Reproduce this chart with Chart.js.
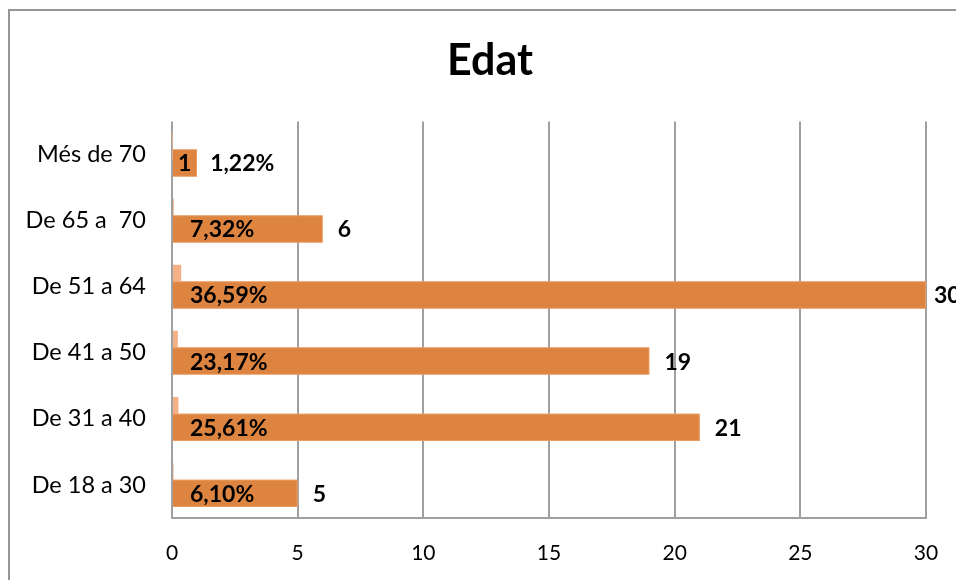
<!DOCTYPE html>
<html>
<head>
<meta charset="utf-8">
<script src="https://cdn.jsdelivr.net/npm/chart.js@4.4.1/dist/chart.umd.min.js"></script>
<style>
html,body{margin:0;padding:0;background:#fff;}
#wrap{width:956px;height:580px;}
</style>
</head>
<body>
<div id="wrap"><canvas id="c" width="956" height="580"></canvas></div>
<script>
const categories = ["De 18 a 30", "De 31 a 40", "De 41 a 50", "De 51 a 64", "De 65 a  70", "Més de 70"];
const counts = [5, 21, 19, 30, 6, 1];
const percents = [0.0610, 0.2561, 0.2317, 0.3659, 0.0732, 0.0122];
const xTicks = [0, 5, 10, 15, 20, 25, 30];

const FONT = "Lato, 'Open Sans', sans-serif";

/* marco gris */
const frame = {
  id: "frame",
  beforeDraw(chart){
    const c = chart.ctx;
    c.save();
    c.fillStyle = "#fff";
    c.fillRect(0, 0, chart.width, chart.height);
    c.strokeStyle = "#959595";
    c.lineWidth = 2;
    c.strokeRect(9, 10, chart.width + 40, chart.height + 40);
    c.restore();
  }
};

/* el títol centrat sobre tot el marc (que surt per la dreta) */
const titleShift = {
  id: "titleShift",
  afterLayout(chart){
    if (chart.titleBlock) chart.titleBlock.left = 54;
  }
};

/* la barra taronja sempre per sobre */
const orangeOnTop = {
  id: "orangeOnTop",
  afterDatasetsDraw(chart){
    chart.getDatasetMeta(1).controller.draw();
  }
};

/* etiquetes */
const labels = {
  id: "labels",
  afterDraw(chart){
    const c = chart.ctx;
    const meta = chart.getDatasetMeta(1);
    c.save();
    c.font = "bold 23px " + FONT;
    c.fillStyle = "#000";
    c.textBaseline = "middle";
    c.textAlign = "left";
    meta.data.forEach((bar, i) => {
      const pct = (percents[i] * 100).toFixed(2).replace(".", ",") + "%";
      const w = c.measureText(pct).width;
      const len = bar.x - bar.base;
      if (len > w + 24) {
        c.fillText(pct, bar.base + 17, bar.y + 1);
        c.fillText(String(counts[i]), Math.min(bar.x + 15, chart.width - 22), bar.y + 1);
      } else {
        c.fillText(String(counts[i]), bar.base + 5, bar.y + 1);
        c.fillText(pct, bar.x + 13, bar.y + 1);
      }
    });
    c.restore();
  }
};

new Chart(document.getElementById("c"), {
  type: "bar",
  data: {
    labels: categories,
    datasets: [
      {
        label: "Percentatge",
        data: percents,
        backgroundColor: "#F5B185"
      },
      {
        label: "Nombre",
        data: counts,
        backgroundColor: "#DD8440",
        borderColor: "#EC9B5E",
        borderWidth: 1
      }
    ]
  },
  options: {
    indexAxis: "y",
    responsive: false,
    animation: false,
    categoryPercentage: 0.5,
    barPercentage: 1.667,
    layout: { padding: { left: 0, right: 30, top: 0, bottom: 0 } },
    plugins: {
      legend: { display: false },
      tooltip: { enabled: false },
      title: {
        display: true,
        text: "Edat",
        color: "#000",
        font: { family: FONT, size: 43, weight: "bold" },
        padding: { top: 35, bottom: 35 }
      }
    },
    scales: {
      x: {
        min: 0,
        max: 30,
        afterBuildTicks(scale){
          scale.ticks = xTicks.map(v => ({ value: v }));
        },
        afterFit(scale){ scale.height = 62; },
        grid: { color: "#a0a0a0", lineWidth: 2, drawTicks: true, tickLength: 23, tickColor: "rgba(0,0,0,0)" },
        border: { display: true, color: "#a0a0a0", width: 2 },
        ticks: {
          color: "#000",
          padding: 0,
          font: { family: FONT, size: 21 }
        }
      },
      y: {
        reverse: true,
        afterFit(scale){ scale.width = 172; },
        grid: { display: false, drawTicks: false },
        border: { display: false },
        ticks: {
          color: "#000",
          padding: 26,
          font: { family: FONT, size: 23.5 }
        }
      }
    }
  },
  plugins: [frame, titleShift, orangeOnTop, labels]
});
</script>
</body>
</html>
